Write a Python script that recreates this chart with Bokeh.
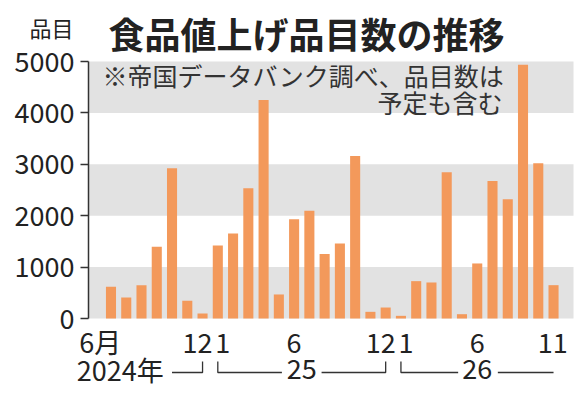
from bokeh.plotting import figure
from bokeh.models import Range1d, FixedTicker, AllLabels, BoxAnnotation
from bokeh.core.properties import value
from bokeh.embed import file_html
from bokeh.resources import INLINE

# ---- data ----
months = ["2024-06", "2024-07", "2024-08", "2024-09", "2024-10", "2024-11", "2024-12",
          "2025-01", "2025-02", "2025-03", "2025-04", "2025-05", "2025-06",
          "2025-07", "2025-08", "2025-09", "2025-10", "2025-11", "2025-12",
          "2026-01", "2026-02", "2026-03", "2026-04", "2026-05", "2026-06",
          "2026-07", "2026-08", "2026-09", "2026-10", "2026-11"]
counts = [617, 409, 649, 1396, 2922, 344, 97,
          1422, 1656, 2532, 4253, 468, 1929,
          2097, 1253, 1461, 3162, 130, 214,
          52, 727, 701, 2844, 84, 1071,
          2675, 2318, 4935, 3019, 649]
tick_months = ["2024-06", "2024-12", "2025-01", "2025-06", "2025-12", "2026-01", "2026-06", "2026-11"]
tick_labels = ["6月", "12", "1", "6", "12", "1", "6", "11"]
years = ["2024年", "25", "26"]
year_first = ["2024-06", "2025-01", "2026-01"]
year_last = ["2024-12", "2025-12", "2026-11"]
y_ticks = [0, 1000, 2000, 3000, 4000, 5000]
band_low = [0, 2000, 4000]
band_high = [1000, 3000, 5000]
title = "食品値上げ品目数の推移"
unit = "品目"
note = ["※帝国データバンク調べ、品目数は", "予定も含む"]

FONT = "Noto Sans CJK JP"
TXT = "#222222"

idx = {m: i for i, m in enumerate(months)}
xs = list(range(len(months)))

AXIS_X = -1.47      # where the value axis stands (in bar-index units)
PLOT_RIGHT = 30.31  # right edge of the shaded bands

p = figure(width=586, height=400, output_backend="svg", toolbar_location=None,
           x_range=Range1d(-7.24, 31.16), y_range=Range1d(-1595, 6187),
           min_border_left=0, min_border_right=0, min_border_top=0, min_border_bottom=0)
p.outline_line_color = None
p.grid.visible = False
p.background_fill_color = "white"

for lo, hi in zip(band_low, band_high):
    p.add_layout(BoxAnnotation(left=AXIS_X, right=PLOT_RIGHT, bottom=lo, top=hi,
                               fill_color="#e2e2e2", fill_alpha=1.0,
                               line_color=None, level="underlay"))

p.vbar(x=xs, top=counts, width=0.66, color="#f3995b", line_color=None)

# y axis
ya = p.yaxis[0]
ya.fixed_location = AXIS_X
ya.ticker = FixedTicker(ticks=y_ticks)
ya.bounds = (0, 5000)
ya.axis_line_color = "#333333"
ya.axis_line_width = 1.5
ya.major_tick_line_color = "#333333"
ya.major_tick_line_width = 1.5
ya.major_tick_out = 8
ya.major_tick_in = 0
ya.minor_tick_line_color = None
ya.major_label_standoff = 6
ya.major_label_text_font = FONT
ya.major_label_text_font_size = "27px"
ya.major_label_text_color = TXT

# x axis (month labels) at y=0
shift = {0: -0.7, 1: -0.33, 2: 0.33, 3: 0.0, 4: -0.33, 5: 0.33, 6: 0.0, 7: -0.05}
tick_pos = [round(idx[m] + shift[k], 2) for k, m in enumerate(tick_months)]
xa = p.xaxis[0]
xa.fixed_location = 0
xa.ticker = FixedTicker(ticks=tick_pos)
xa.major_label_overrides = {t: l for t, l in zip(tick_pos, tick_labels)}
xa.major_label_policy = AllLabels()
xa.axis_line_color = None
xa.major_tick_line_color = None
xa.minor_tick_line_color = None
xa.major_label_standoff = -3
xa.major_label_text_font = FONT
xa.major_label_text_font_size = "27px"
xa.major_label_text_color = TXT

# year row with brackets
y_line = -1050
y_hook = -836
y_year = -985
mx, my = [], []
f0, l0 = idx[year_first[0]], idx[year_last[0]]
mx.append([f0 + 4.0, l0, l0]); my.append([y_line, y_line, y_hook])
f1, l1 = idx[year_first[1]], idx[year_last[1]]
c1 = (f1 + l1) / 2
mx.append([f1, f1, c1 - 1.3]); my.append([y_hook, y_line, y_line])
mx.append([c1 + 1.3, l1, l1]); my.append([y_line, y_line, y_hook])
f2, l2 = idx[year_first[2]], idx[year_last[2]]
c2 = (f2 + l2) / 2
mx.append([f2, f2, c2 - 1.25]); my.append([y_hook, y_line, y_line])
mx.append([c2 + 1.35, l2]); my.append([y_line, y_line])
p.multi_line(xs=mx, ys=my, line_color="#333333", line_width=1.3)

p.text(x=[f0 + 3.45], y=[y_year], text=[years[0]], text_align="right", text_baseline="middle",
       text_font=value(FONT), text_font_size="27px", text_color=TXT)
p.text(x=[c1, c2], y=[y_year, y_year], text=years[1:], text_align="center", text_baseline="middle",
       text_font=value(FONT), text_font_size="27px", text_color=TXT)

# note
p.text(x=[25.66, 25.66], y=[4730, 4215], text=note, text_align="right", text_baseline="middle",
       text_font=value(FONT), text_font_size="25px", text_color="#333333")

# title and unit
p.text(x=[-0.16], y=[5545], text=[title], text_align="left", text_baseline="middle",
       text_font=value(FONT), text_font_size="36px", text_font_style="bold", text_color=TXT)
p.text(x=[-3.9], y=[5671], text=[unit], text_align="center", text_baseline="middle",
       text_font=value(FONT), text_font_size="22px", text_color=TXT)

open("out.html", "w").write(file_html(p, INLINE))
